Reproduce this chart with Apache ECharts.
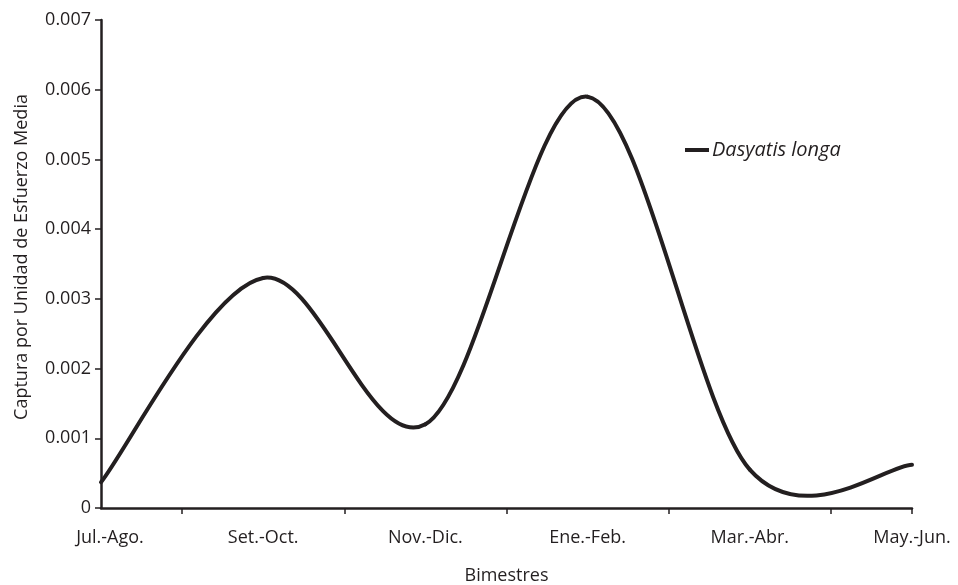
<!DOCTYPE html>
<html>
<head>
<meta charset="utf-8">
<script src="https://cdn.jsdelivr.net/npm/echarts@6/dist/echarts.min.js"></script>
<style>html,body{margin:0;padding:0;background:#fff}#c{width:958px;height:585px}</style>
</head>
<body>
<div id="c"></div>
<script>
var categories = ['Jul.-Ago.', 'Set.-Oct.', 'Nov.-Dic.', 'Ene.-Feb.', 'Mar.-Abr.', 'May.-Jun.'];
var dasyatisLonga = [0.00037, 0.0033, 0.0012, 0.0059, 0.00055, 0.00062];
var yTicks = ['0', '0.001', '0.002', '0.003', '0.004', '0.005', '0.006', '0.007'];
var seriesName = 'Dasyatis longa';

var ink = '#231f20';
var font = 'Open Sans';
var chart = echarts.init(document.getElementById('c'));
var tickSlots = [];
for (var i = 0; i <= (categories.length - 1) * 2; i++) tickSlots.push('');

// smoothed line (cardinal spline, like a spreadsheet "smoothed line"), drawn per segment
function renderSegment(params, api) {
  var i = params.dataIndex;
  var n = dasyatisLonga.length;
  if (i >= n - 1) return null;
  function pt(k) {
    k = Math.max(0, Math.min(n - 1, k));
    return api.coord([k, dasyatisLonga[k]]);
  }
  var p0 = pt(i - 1), p1 = pt(i), p2 = pt(i + 1), p3 = pt(i + 2);
  var t = 1 / 6;
  return {
    type: 'bezierCurve',
    shape: {
      x1: p1[0], y1: p1[1],
      cpx1: p1[0] + (p2[0] - p0[0]) * t, cpy1: p1[1] + (p2[1] - p0[1]) * t,
      cpx2: p2[0] - (p3[0] - p1[0]) * t, cpy2: p2[1] - (p3[1] - p1[1]) * t,
      x2: p2[0], y2: p2[1]
    },
    style: { stroke: ink, lineWidth: 4, fill: null, lineCap: 'round', lineJoin: 'round' }
  };
}

chart.setOption({
  animation: false,
  textStyle: { fontFamily: font, color: ink },
  grid: { left: 101, right: 46, top: 20, bottom: 77, containLabel: false, outerBoundsMode: 'none' },
  legend: {
    data: [{ name: seriesName, icon: 'rect', itemStyle: { color: ink } }],
    left: 680, top: 135,
    itemWidth: 24, itemHeight: 4, itemGap: 4,
    textStyle: { fontFamily: font, fontStyle: 'italic', fontSize: 20, color: ink, padding: [0, 0, 0, -2] }
  },
  xAxis: [{
    type: 'category',
    data: categories,
    boundaryGap: false,
    name: 'Bimestres',
    nameLocation: 'middle',
    nameGap: 59,
    nameTextStyle: { fontFamily: font, fontSize: 18, color: ink },
    axisLine: { lineStyle: { color: ink, width: 2.5 } },
    axisTick: { show: false },
    axisLabel: {
      fontFamily: font, fontSize: 18, color: ink, margin: 21, interval: 0,
      formatter: function (v, idx) { return idx === 0 ? '{first|' + v + '}' : v; },
      rich: { first: { fontFamily: font, fontSize: 18, color: ink, padding: [0, 0, 0, 18] } }
    },
    splitLine: { show: false }
  }, {
    type: 'category',
    data: tickSlots,
    boundaryGap: false,
    position: 'bottom',
    axisLine: { show: false },
    axisLabel: { show: false },
    axisTick: {
      show: true, length: 6, inside: false,
      lineStyle: { color: ink, width: 1.5 },
      interval: function (idx) { return idx % 2 === 1 || idx === tickSlots.length - 1; }
    },
    splitLine: { show: false }
  }],
  yAxis: {
    type: 'value',
    min: 0, max: 0.007, interval: 0.001,
    name: 'Captura por Unidad de Esfuerzo Media',
    nameLocation: 'middle',
    nameGap: 70,
    nameTextStyle: { fontFamily: font, fontSize: 18, color: ink, padding: [0, 0, 0, 14] },
    axisLine: { show: true, lineStyle: { color: ink, width: 2.5 } },
    axisTick: { show: true, length: 6, lineStyle: { color: ink, width: 1.5 } },
    axisLabel: {
      fontFamily: font, fontSize: 18, color: ink, margin: 10,
      formatter: function (v) { var i = Math.round(v / 0.001); return yTicks[i] !== undefined ? yTicks[i] : ''; }
    },
    splitLine: { show: false }
  },
  series: [{
    name: seriesName,
    type: 'custom',
    renderItem: renderSegment,
    data: dasyatisLonga.map(function (v, i) { return [i, v]; }),
    encode: { x: 0, y: 1 },
    itemStyle: { color: ink },
    clip: false
  }]
});
</script>
</body>
</html>
